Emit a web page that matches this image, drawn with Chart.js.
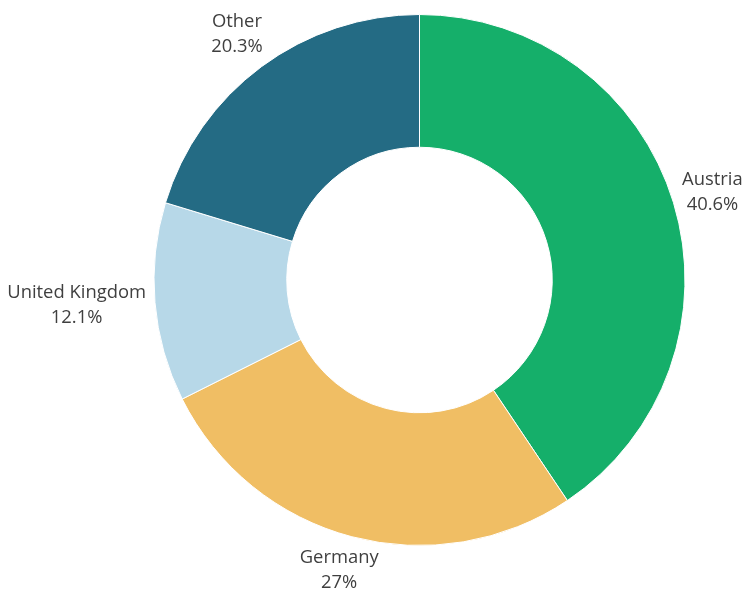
<!DOCTYPE html>
<html>
<head>
<meta charset="utf-8">
<script src="https://cdn.jsdelivr.net/npm/chart.js@4/dist/chart.umd.min.js"></script>
<style>
  html, body { margin: 0; padding: 0; background: #ffffff; }
  #wrap { width: 744px; height: 592px; position: relative; }
</style>
</head>
<body>
<div id="wrap"><canvas id="c"></canvas></div>
<script>
const categories = ["Austria", "Germany", "United Kingdom", "Other"];
const shares = [40.6, 27, 12.1, 20.3];
const colors = ["#15AF6A", "#F0BE64", "#B7D8E8", "#246B84"];

const outsideLabels = {
  id: 'outsideLabels',
  afterDatasetsDraw(chart) {
    const ctx = chart.ctx;
    const meta = chart.getDatasetMeta(0);
    const lineH = 25;
    const off = 9;
    ctx.save();
    ctx.font = '18.4px "Open Sans"';
    ctx.fillStyle = '#3f3f3f';
    ctx.textAlign = 'center';
    ctx.textBaseline = 'middle';
    meta.data.forEach((arc, i) => {
      const p = arc.getProps(['x', 'y', 'startAngle', 'endAngle', 'outerRadius'], true);
      const mid = (p.startAngle + p.endAngle) / 2;
      const vx = Math.cos(mid), vy = Math.sin(mid);
      const ax = p.x + vx * p.outerRadius;
      const ay = p.y + vy * p.outerRadius;
      const lines = [categories[i], shares[i] + '%'];
      const w = Math.max(...lines.map(l => ctx.measureText(l).width));
      const h = lines.length * lineH;
      const vs = 1 / Math.max(Math.abs(vx), Math.abs(vy));
      const cx = ax + (w / 2) * vx * vs + off * vx;
      const cy = ay + (h / 2) * vy * vs + off * vy;
      lines.forEach((l, j) => {
        ctx.fillText(l, cx, cy + (j - (lines.length - 1) / 2) * lineH);
      });
    });
    ctx.restore();
  }
};

new Chart(document.getElementById('c'), {
  type: 'doughnut',
  data: {
    labels: categories,
    datasets: [{
      data: shares,
      backgroundColor: colors,
      borderColor: '#ffffff',
      borderWidth: 1
    }]
  },
  options: {
    responsive: true,
    maintainAspectRatio: false,
    animation: false,
    cutout: '50%',
    layout: { padding: { top: 14, bottom: 46, left: 95, right: 0 } },
    plugins: {
      legend: { display: false },
      tooltip: { enabled: false }
    }
  },
  plugins: [outsideLabels]
});
</script>
</body>
</html>
